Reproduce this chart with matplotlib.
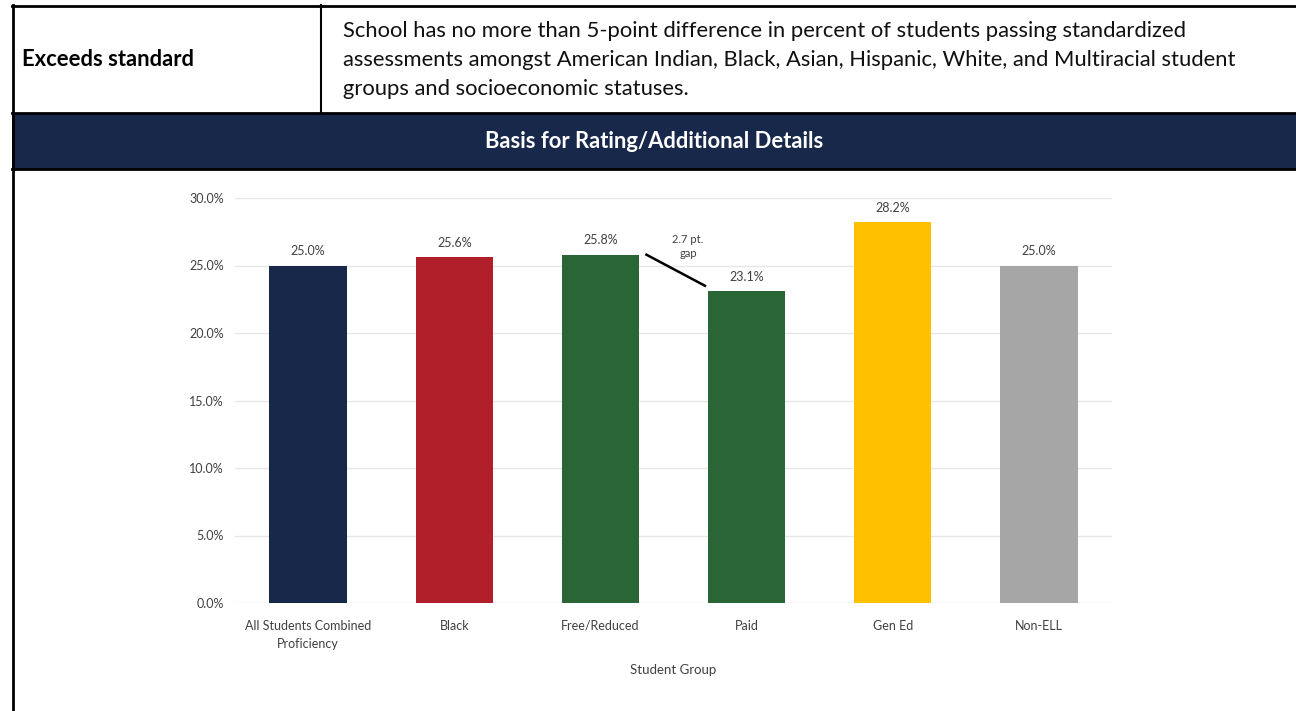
import matplotlib.pyplot as plt
from matplotlib.patches import Rectangle

plt.rcParams['font.family'] = ['Lato', 'DejaVu Sans']

groups = ['All Students Combined\nProficiency', 'Black', 'Free/Reduced', 'Paid', 'Gen Ed', 'Non-ELL']
values = [25.0, 25.6, 25.8, 23.1, 28.2, 25.0]
colors = ['#17284A', '#B01F2A', '#2A6535', '#2A6535', '#FFC000', '#A6A6A6']
yticks = [0, 5, 10, 15, 20, 25, 30]
gap_pair = (2, 3)  # Free/Reduced vs Paid

rating = 'Exceeds standard'
description = ('School has no more than 5-point difference in percent of students passing standardized\n'
               'assessments amongst American Indian, Black, Asian, Hispanic, White, and Multiracial student\n'
               'groups and socioeconomic statuses.')
header = 'Basis for Rating/Additional Details'

navy = '#18284A'
fig = plt.figure(figsize=(12.96, 7.11), dpi=100)

# background "table" drawn in pixel coordinates
bg = fig.add_axes([0, 0, 1, 1])
bg.set_xlim(0, 1296)
bg.set_ylim(711, 0)
bg.axis('off')
bg.add_patch(Rectangle((12, 113), 1290, 56, facecolor=navy, edgecolor='none'))
lw = 2.0
bg.plot([12, 1296], [5.5, 5.5], color='black', lw=lw)
bg.plot([12, 1296], [113, 113], color='black', lw=lw)
bg.plot([12, 1296], [169, 169], color='black', lw=lw)
bg.plot([12.5, 12.5], [5, 711], color='black', lw=lw)
bg.plot([320.5, 320.5], [5, 113], color='black', lw=1.5)
bg.text(22, 60, rating, fontsize=15.8, fontweight='bold', va='center', ha='left', color='black')
bg.text(343, 60, description, fontsize=15.8, va='center', ha='left', color='#111111', linespacing=1.57)
bg.text(654, 142, header, fontsize=15.8, fontweight='bold', va='center', ha='center', color='white')

# chart
ax = fig.add_axes([235 / 1296, 1 - 603 / 711, 877 / 1296, 405 / 711])
x = range(len(groups))
bw = 0.53
bars = ax.bar(x, values, width=bw, color=colors, zorder=3)
for xi, v in zip(x, values):
    ax.annotate(f'{v:.1f}%', (xi, v), xytext=(0, 6), textcoords='offset points',
                ha='center', va='bottom', fontsize=9, color='#404040')

a, b = gap_pair
diff = values[a] - values[b]
ax.plot([a + bw / 2 + 0.05, b - bw / 2 - 0.02], [values[a], values[b] + 0.4],
        color='black', lw=1.8, zorder=4)
ax.text((a + b) / 2 + 0.1, values[a] + 0.6, f'{diff:.1f} pt.\ngap', ha='center', va='center',
        fontsize=8, color='#404040', linespacing=1.3)

ax.set_xlim(-0.5, len(groups) - 0.5)
ax.set_ylim(0, 30)
ax.set_yticks(yticks)
ax.set_yticklabels([f'{t:.1f}%' for t in yticks])
ax.set_xticks(list(x))
ax.set_xticklabels(groups, linespacing=1.6)
ax.grid(axis='y', color='#E6E6E6', lw=1, zorder=0)
for s in ax.spines.values():
    s.set_visible(False)
ax.tick_params(length=0, labelsize=9, colors='#404040')
ax.tick_params(axis='x', pad=12)
ax.tick_params(axis='y', pad=8)
ax.set_xlabel('Student Group', fontsize=9.5, color='#404040', labelpad=10)

fig.savefig('out.png', dpi=100)
